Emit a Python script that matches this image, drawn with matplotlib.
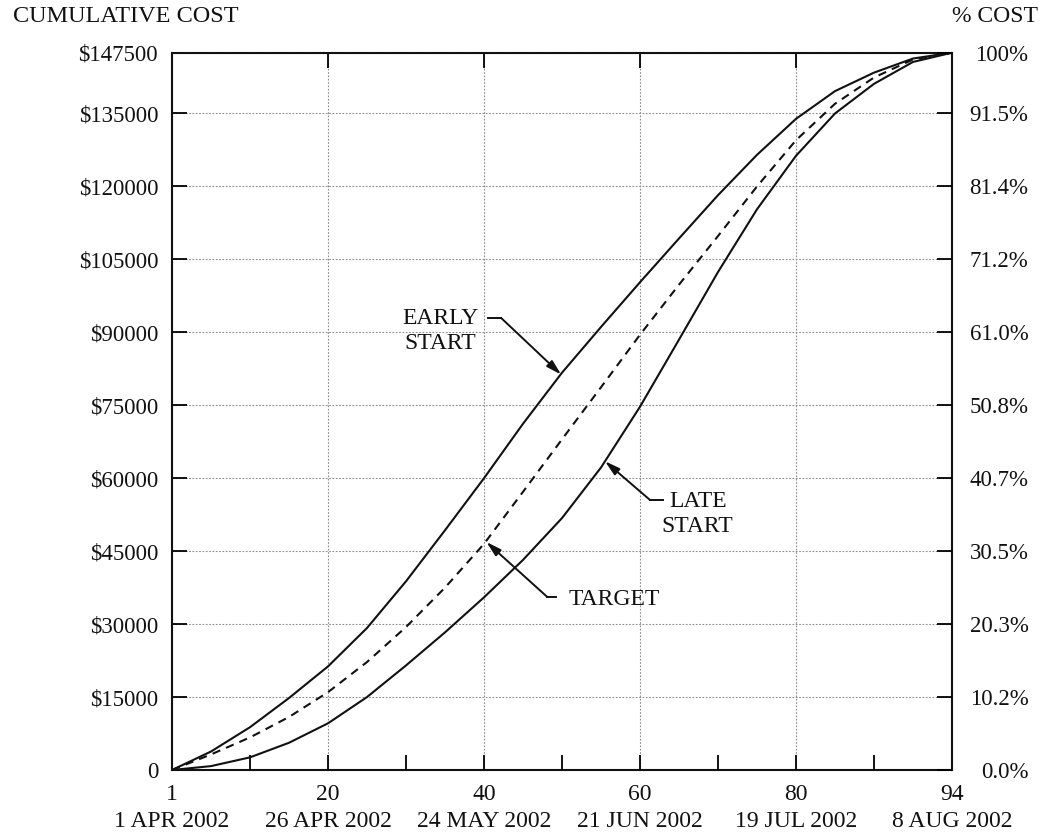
import matplotlib
matplotlib.use("Agg")
import matplotlib.pyplot as plt

plt.rcParams['font.family'] = ['Liberation Serif', 'DejaVu Serif']

# ---------------- data ----------------
# x positions on the (evenly spaced) schedule axis, 0 = day 1, 100 = day 94
early_x = [0, 5, 10, 15, 20, 25, 30, 35, 40, 45, 50, 55, 60, 65, 70, 75, 80,
           85, 90, 95, 100]
early_y = [0, 3800, 8800, 14800, 21300, 29200, 38800, 49300, 60000, 71200,
           81700, 91100, 100300, 109300, 118200, 126500, 133900, 139600,
           143400, 146300, 147500]

target_x = [0, 5, 10, 15, 20, 25, 30, 35, 40, 45, 50, 55, 60, 65, 70, 75, 80,
            85, 90, 95, 100]
target_y = [0, 3200, 6700, 10900, 16000, 22200, 29400, 37500, 46500, 57200,
            68000, 78700, 89500, 99800, 109800, 120000, 129500, 137000,
            142400, 146100, 147500]

late_x = [0, 5, 10, 15, 20, 25, 30, 35, 40, 45, 50, 55, 60, 65, 70, 75, 80,
          85, 90, 95, 100]
late_y = [0, 800, 2600, 5600, 9600, 15000, 21500, 28300, 35500, 43200, 51800,
          62200, 74700, 88500, 102400, 115300, 126300, 135000, 141100,
          145600, 147500]

x_major = [0, 20, 40, 60, 80, 100]
x_major_labels = ['1\n1 APR 2002', '20\n26 APR 2002', '40\n24 MAY 2002',
                  '60\n21 JUN 2002', '80\n19 JUL 2002', '94\n8 AUG 2002']
x_minor = [10, 30, 50, 70, 90]

y_ticks = [0, 15000, 30000, 45000, 60000, 75000, 90000, 105000, 120000, 135000, 147500]
y_left_labels = ['0', '$15000', '$30000', '$45000', '$60000', '$75000', '$90000',
                 '$105000', '$120000', '$135000', '$147500']
y_right_labels = ['0.0%', '10.2%', '20.3%', '30.5%', '40.7%', '50.8%', '61.0%',
                  '71.2%', '81.4%', '91.5%', '100%']

# ---------------- figure ----------------
W, H = 1049, 839
fig = plt.figure(figsize=(W / 100, H / 100), dpi=100)
ax = fig.add_axes([172 / W, (H - 770) / H, (952 - 172) / W, (770 - 52.7) / H])

ink = '#111111'
fs = 16.5

ax.plot(early_x, early_y, color=ink, lw=1.5, solid_joinstyle='round')
ax.plot(target_x, target_y, color=ink, lw=1.5, linestyle=(0, (4, 3)))
ax.plot(late_x, late_y, color=ink, lw=1.5, solid_joinstyle='round')

ax.set_xlim(0, 100)
ax.set_ylim(0, 147500)

ax.set_xticks(x_major)
ax.set_xticklabels(x_major_labels, fontsize=17, color=ink)
ax.set_xticks(x_minor, minor=True)
ax.set_yticks(y_ticks)
ax.set_yticklabels(y_left_labels, fontsize=fs, color=ink)

ax.tick_params(axis='x', which='major', direction='in', length=11, width=1.3,
               top=True, pad=10)
ax.tick_params(axis='x', which='minor', direction='in', length=11, width=1.3,
               top=False)
ax.tick_params(axis='y', which='major', direction='in', length=11, width=1.3,
               pad=10)
for lbl in ax.get_xticklabels():
    lbl.set_linespacing(1.4)

ax.grid(True, which='major', color='#8a8a8a', lw=0.8, linestyle=(0, (1.5, 1.5)))
ax.set_axisbelow(True)
for s in ax.spines.values():
    s.set_linewidth(1.5)
    s.set_color(ink)

ax2 = ax.twinx()
ax2.set_ylim(0, 147500)
ax2.set_yticks(y_ticks)
ax2.set_yticklabels(y_right_labels, fontsize=fs, color=ink, ha='right')
ax2.tick_params(axis='y', direction='in', length=11, width=1.3, pad=55)
for s in ax2.spines.values():
    s.set_visible(False)

# ---------------- annotations ----------------
def callout(ax, text, text_xy, ha, h_start, corner, tip):
    ax.text(text_xy[0], text_xy[1], text, fontsize=17, color=ink, ha=ha,
            va='center', multialignment='center', linespacing=1.25)
    ax.plot([h_start[0], corner[0]], [h_start[1], corner[1]], color=ink, lw=1.4)
    ax.annotate('', xy=tip, xytext=corner,
                arrowprops=dict(arrowstyle='-|>,head_length=0.9,head_width=0.25',
                                color=ink, lw=1.4, shrinkA=0, shrinkB=0,
                                mutation_scale=10))

callout(ax, 'EARLY\nSTART', (34.4, 90300), 'center',
        (40.5, 92950), (42.2, 92950), (49.9, 81300))
callout(ax, 'LATE\nSTART', (67.4, 52600), 'center',
        (62.9, 55500), (61.3, 55500), (55.5, 63500))
callout(ax, 'TARGET', (50.8, 35000), 'left',
        (49.2, 35600), (48.1, 35600), (40.3, 46900))

fig.text(13 / W, 1 - 16 / H, 'CUMULATIVE COST', fontsize=17.5, color=ink,
         ha='left', va='center')
fig.text(1038 / W, 1 - 16 / H, '% COST', fontsize=17, color=ink,
         ha='right', va='center')

fig.savefig('out.png', dpi=100, facecolor='white')
